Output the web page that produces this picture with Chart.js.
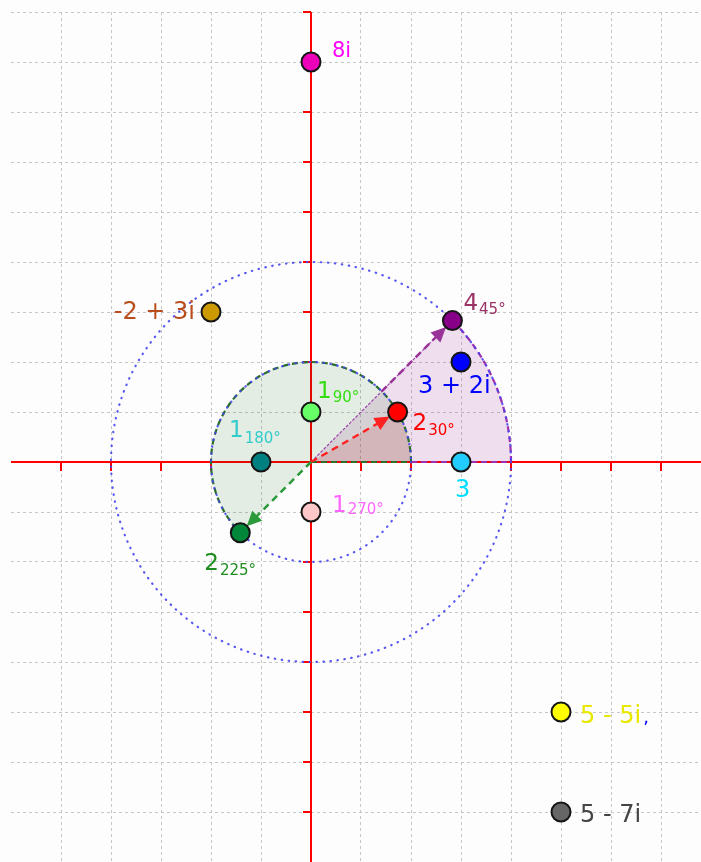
<!DOCTYPE html>
<html>
<head>
<meta charset="utf-8">
<script src="https://cdn.jsdelivr.net/npm/chart.js@4/dist/chart.umd.min.js"></script>
<style>
  html, body { margin: 0; padding: 0; background: #fdfdfd; }
  #wrap { width: 701px; height: 862px; position: relative; }
</style>
</head>
<body>
<div id="wrap"><canvas id="c" width="701" height="862"></canvas></div>
<script>
// ---------------- DATA ----------------
// axis ranges of the complex plane (real, imaginary)
const realRange = [-6, 7.8];
const imagRange = [-8, 9];
// complex numbers given in cartesian form a + bi
const cartLabels = ['8i', '-2 + 3i', '3 + 2i', '3', '5 - 5i', '5 - 7i'];
const cartRe = [0, -2, 3, 3, 5, 5];
const cartIm = [8, 3, 2, 0, -5, -7];
// complex numbers given in polar form r_θ
const polarModulus = [4, 1, 2, 1, 1, 2];
const polarAngleDeg = [45, 90, 30, 180, 270, 225];
// dotted reference circles (radius)
const circleRadii = [2, 4];
// sectors: radius, start angle, end angle (purple, green, red)
const sectorRadii = [4, 2, 2];
const sectorFromDeg = [0, 0, 0];
const sectorToDeg = [45, 225, 30];
// arrows from origin to polar points (index into polar arrays)
const arrowTargets = [0, 2, 5];

// ---------------- STYLES ----------------
const cartPointColors = ['#ee00bb', '#cc9900', '#0000ff', '#22ccff', '#ffff00', '#666666'];
const cartTextColors = ['#ff00ff', '#b94e1c', '#0000ff', '#00ddff', '#e8e800', '#444444'];
const cartTextStyle = [
  { dx: 21, dy: -5, align: 'left', size: 21 },
  { dx: -16, dy: 7, align: 'right', size: 24 },
  { dx: -43, dy: 31, align: 'left', size: 24 },
  { dx: -6, dy: 35, align: 'left', size: 24 },
  { dx: 19, dy: 11, align: 'left', size: 24, trail: ',', trailColor: '#0000ff' },
  { dx: 19, dy: 10, align: 'left', size: 24 }
];
const polarPointColors = ['#880088', '#66ff66', '#ff0000', '#008080', '#ffc8c8', '#00873a'];
const polarTextColors = ['#993366', '#33dd11', '#ff0000', '#33cccc', '#ff66ff', '#1e8c1e'];
const polarTextStyle = [
  { dx: 11, dy: -11, sdy: 4 },
  { dx: 6, dy: -14, sdy: 4 },
  { dx: 15, dy: 18, sdy: 5 },
  { dx: -32, dy: -25, sdy: 6 },
  { dx: 21, dy: 0, sdy: 2 },
  { dx: -36, dy: 37, sdy: 5 }
];
const sectorFill = ['rgba(128,0,128,0.12)', 'rgba(0,100,0,0.10)', 'rgba(200,0,0,0.13)'];
const sectorStroke = ['#9b30b0', '#2b6e2b', null];
const arrowColors = ['#993399', '#ff2020', '#2a9a3a'];
const arrowStartUnits = [2, 0, 0];

// ---------------- BUILD ----------------
const deg = Math.PI / 180;
const points = [];
const pointColors = [];
cartRe.forEach((re, i) => { points.push({ x: re, y: cartIm[i] }); pointColors.push(cartPointColors[i]); });
polarModulus.forEach((m, i) => {
  points.push({ x: m * Math.cos(polarAngleDeg[i] * deg), y: m * Math.sin(polarAngleDeg[i] * deg) });
  pointColors.push(polarPointColors[i]);
});

const FONT = '"DejaVu Sans", Verdana, sans-serif';

function gridColor(axisMin) {
  return (c) => {
    const v = c.tick ? c.tick.value : NaN;
    if (!Number.isInteger(v) || v === 0 || v === axisMin) return 'rgba(0,0,0,0)';
    return '#c6c6c6';
  };
}

const planePlugin = {
  id: 'plane',
  beforeDraw(chart) {
    const ctx = chart.ctx;
    ctx.save();
    ctx.fillStyle = '#fdfdfd';
    ctx.fillRect(0, 0, chart.width, chart.height);
    ctx.restore();
  },
  beforeDatasetsDraw(chart) {
    const { ctx, chartArea: a, scales: { x, y } } = chart;
    const X = v => x.getPixelForValue(v);
    const Y = v => y.getPixelForValue(v);
    const ox = X(0), oy = Y(0);
    const R = r => X(r) - X(0);
    const line = (x1, y1, x2, y2) => { ctx.beginPath(); ctx.moveTo(x1, y1); ctx.lineTo(x2, y2); ctx.stroke(); };
    ctx.save();

    // red axes with tick marks
    ctx.strokeStyle = '#ff0000';
    ctx.lineWidth = 2;
    ctx.setLineDash([]);
    line(a.left, oy, a.right, oy);
    line(ox, a.top, ox, a.bottom);
    for (let v = Math.ceil(realRange[0]) + 1; v <= Math.floor(realRange[1]); v++) {
      if (v === 0) continue;
      line(X(v), oy, X(v), oy + 9);
    }
    for (let v = Math.ceil(imagRange[0]) + 1; v <= Math.floor(imagRange[1]); v++) {
      if (v === 0) continue;
      line(ox - 8, Y(v), ox, Y(v));
    }

    // sector fills
    sectorRadii.forEach((r, i) => {
      ctx.beginPath();
      ctx.moveTo(ox, oy);
      ctx.arc(ox, oy, R(r), -sectorFromDeg[i] * deg, -sectorToDeg[i] * deg, true);
      ctx.closePath();
      ctx.fillStyle = sectorFill[i];
      ctx.fill();
    });

    // purple sector radial edge (thin)
    ctx.strokeStyle = '#a040b0';
    ctx.lineWidth = 1.2;
    ctx.setLineDash([3, 1.5]);
    line(ox, oy, ox + R(sectorRadii[0]) * Math.cos(sectorToDeg[0] * deg), oy - R(sectorRadii[0]) * Math.sin(sectorToDeg[0] * deg));

    // sector borders (arc + edge along real axis)
    sectorRadii.forEach((r, i) => {
      if (!sectorStroke[i]) return;
      ctx.strokeStyle = sectorStroke[i];
      ctx.lineWidth = 2.2;
      ctx.setLineDash([6, 4]);
      ctx.beginPath();
      ctx.arc(ox, oy, R(r), -sectorFromDeg[i] * deg, -sectorToDeg[i] * deg, true);
      ctx.stroke();
      line(ox, oy, ox + R(r), oy);
    });

    // dotted circles
    ctx.strokeStyle = 'rgba(70,70,240,0.9)';
    ctx.lineWidth = 2.2;
    ctx.lineCap = 'round';
    ctx.setLineDash([0.5, 6.5]);
    circleRadii.forEach(r => {
      ctx.beginPath();
      ctx.arc(ox, oy, R(r), 0, Math.PI * 2);
      ctx.stroke();
    });
    ctx.lineCap = 'butt';

    // arrows
    arrowTargets.forEach((pi, k) => {
      const m = polarModulus[pi], th = polarAngleDeg[pi] * deg;
      const c = Math.cos(th), s = -Math.sin(th);
      const len = R(m) - 9;
      const st = R(arrowStartUnits[k]);
      const head = 15, hw = 7;
      ctx.strokeStyle = arrowColors[k];
      ctx.fillStyle = arrowColors[k];
      ctx.lineWidth = 2.5;
      ctx.setLineDash([7, 5]);
      line(ox + c * st, oy + s * st, ox + c * (len - head + 2), oy + s * (len - head + 2));
      ctx.setLineDash([]);
      const tx = ox + c * len, ty = oy + s * len;
      const bx = ox + c * (len - head), by = oy + s * (len - head);
      ctx.beginPath();
      ctx.moveTo(tx, ty);
      ctx.lineTo(bx - s * hw, by + c * hw);
      ctx.lineTo(bx + s * hw, by - c * hw);
      ctx.closePath();
      ctx.fill();
    });
    ctx.restore();
  },
  afterDatasetsDraw(chart) {
    const { ctx, scales: { x, y } } = chart;
    const X = v => x.getPixelForValue(v);
    const Y = v => y.getPixelForValue(v);
    ctx.save();
    ctx.textBaseline = 'alphabetic';
    cartLabels.forEach((t, i) => {
      const st = cartTextStyle[i];
      ctx.font = st.size + 'px ' + FONT;
      ctx.textAlign = st.align;
      ctx.fillStyle = cartTextColors[i];
      const px = X(cartRe[i]) + st.dx, py = Y(cartIm[i]) + st.dy;
      ctx.fillText(t, px, py);
      if (st.trail) {
        const w = ctx.measureText(t).width;
        ctx.fillStyle = st.trailColor;
        ctx.font = '18px ' + FONT;
        ctx.textAlign = 'left';
        ctx.fillText(st.trail, px + w + 2, py);
      }
    });
    polarModulus.forEach((m, i) => {
      const th = polarAngleDeg[i] * deg;
      const st = polarTextStyle[i];
      const px = X(m * Math.cos(th)) + st.dx, py = Y(m * Math.sin(th)) + st.dy;
      ctx.fillStyle = polarTextColors[i];
      ctx.textAlign = 'left';
      ctx.font = '23px ' + FONT;
      const main = String(m);
      ctx.fillText(main, px, py);
      const w = ctx.measureText(main).width;
      ctx.font = '15px ' + FONT;
      ctx.fillText(polarAngleDeg[i] + '°', px + w + 1, py + st.sdy);
    });
    ctx.restore();
  }
};

new Chart(document.getElementById('c').getContext('2d'), {
  type: 'scatter',
  data: {
    datasets: [{
      data: points,
      pointRadius: 9.5,
      pointHoverRadius: 9.5,
      backgroundColor: pointColors,
      borderColor: '#151515',
      borderWidth: 2,
      showLine: false,
      clip: false
    }]
  },
  options: {
    responsive: false,
    animation: false,
    events: [],
    layout: { autoPadding: false, padding: { left: 11, top: 12, right: 0, bottom: 0 } },
    plugins: { legend: { display: false }, tooltip: { enabled: false } },
    scales: {
      x: {
        type: 'linear', position: 'bottom',
        min: realRange[0], max: realRange[1],
        ticks: { display: false, stepSize: 1 },
        grid: { color: gridColor(realRange[0]), lineWidth: 1, drawTicks: false },
        border: { display: false, dash: [3, 3] }
      },
      y: {
        type: 'linear', position: 'left',
        min: imagRange[0], max: imagRange[1],
        ticks: { display: false, stepSize: 1 },
        grid: { color: gridColor(imagRange[0]), lineWidth: 1, drawTicks: false },
        border: { display: false, dash: [3, 3] }
      }
    }
  },
  plugins: [planePlugin]
});
</script>
</body>
</html>
